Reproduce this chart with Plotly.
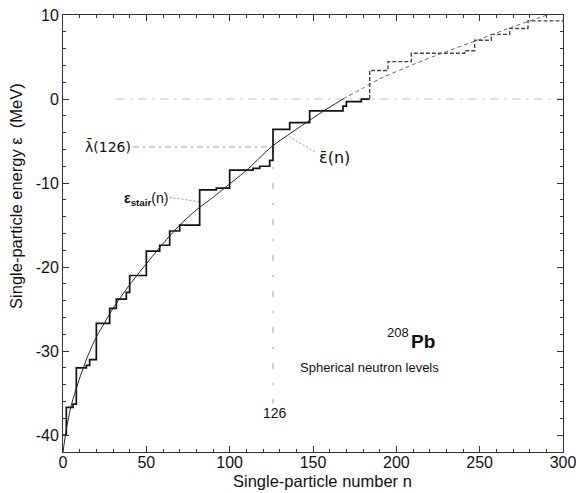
import plotly.graph_objects as go

# ---------------- data ----------------
# bound spherical neutron levels: cumulative particle number at level end, level energy (MeV)
bound_n_end = [2, 6, 8, 14, 16, 20, 28, 32, 38, 40, 50, 58, 64, 70, 82,
               92, 100, 114, 118, 124, 126, 136, 148, 168, 170, 179, 184]
bound_energy = [-40.0, -36.7, -36.3, -32.0, -31.7, -31.0, -26.7, -24.9, -23.8, -23.0,
                -21.0, -18.1, -17.4, -15.7, -15.0, -10.8, -10.6, -8.45, -8.25, -8.0,
                -7.3, -3.6, -2.8, -1.4, -0.85, -0.3, 0.0]
# unbound levels (dashed staircase)
unbound_n_end = [195, 209, 241, 247, 257, 268, 279, 300]
unbound_energy = [3.4, 4.45, 5.45, 5.75, 7.0, 7.7, 8.4, 9.3]

# smooth average energy  eps_bar(n)
smooth_n_bound = [0, 2, 5, 10, 15, 20, 25, 30, 40, 50, 60, 70, 80, 90, 100, 110, 125, 140, 155, 168]
smooth_e_bound = [-42.0, -39.3, -36.4, -33.2, -30.5, -28.3, -26.6, -24.9, -22.1, -19.6,
                  -17.2, -15.0, -13.2, -11.7, -10.1, -8.5, -5.7, -3.6, -1.6, 0.0]
smooth_n_unbound = [168, 180, 190, 210, 228, 250, 270, 292]
smooth_e_unbound = [0.0, 1.3, 2.4, 4.1, 5.5, 7.1, 8.6, 10.1]

fermi_n = 126
fermi_energy = -5.7
xtick_vals = [0, 50, 100, 150, 200, 250, 300]
ytick_vals = [-40, -30, -20, -10, 0, 10]
ytick_text = ["-40", "-30", "-20", "-10", "0", "10"]


def staircase(n_start, e_start, n_ends, energies):
    xs, ys = [n_start], [e_start]
    prev = n_start
    for ne, e in zip(n_ends, energies):
        xs += [prev, ne]
        ys += [e, e]
        prev = ne
    return xs, ys


bx, by = staircase(0, bound_energy[0], bound_n_end, bound_energy)
ux, uy = staircase(bound_n_end[-1], bound_energy[-1], unbound_n_end, unbound_energy)

fig = go.Figure()
GREY = "#9a9a9a"

# reference lines
fig.add_trace(go.Scatter(x=[32, 300], y=[0, 0], mode="lines",
                         line=dict(color="#bbbbbb", width=1, dash="8px,6px,2px,6px"),
                         hoverinfo="skip"))
fig.add_trace(go.Scatter(x=[42, fermi_n], y=[fermi_energy, fermi_energy], mode="lines",
                         line=dict(color=GREY, width=1, dash="6px,4px,2px,4px"),
                         hoverinfo="skip"))
fig.add_trace(go.Scatter(x=[fermi_n, fermi_n], y=[fermi_energy, -39], mode="lines",
                         line=dict(color=GREY, width=1, dash="6px,14px,2px,14px"),
                         hoverinfo="skip"))

# staircase
fig.add_trace(go.Scatter(x=bx, y=by, mode="lines",
                         line=dict(color="#111111", width=1.7), hoverinfo="skip"))
fig.add_trace(go.Scatter(x=ux, y=uy, mode="lines",
                         line=dict(color="#444444", width=1.4, dash="4px,2px"), hoverinfo="skip"))

# smooth curve
fig.add_trace(go.Scatter(x=smooth_n_bound, y=smooth_e_bound, mode="lines",
                         line=dict(color="#222222", width=1, shape="spline", smoothing=0.6),
                         hoverinfo="skip"))
fig.add_trace(go.Scatter(x=smooth_n_unbound, y=smooth_e_unbound, mode="lines",
                         line=dict(color="#666666", width=1, dash="4px,3px", shape="spline", smoothing=0.6),
                         hoverinfo="skip"))

# leader lines
fig.add_trace(go.Scatter(x=[64, 81.5], y=[-11.7, -12.2], mode="lines",
                         line=dict(color=GREY, width=1, dash="2px,2px"), hoverinfo="skip"))
fig.add_trace(go.Scatter(x=[151, 136], y=[-6.3, -4.5], mode="lines",
                         line=dict(color=GREY, width=1, dash="2px,2px"), hoverinfo="skip"))

FONT = "Liberation Sans, Arial, sans-serif"
DJV = "DejaVu Sans, sans-serif"
ann = [
    dict(x=42, y=fermi_energy, text="λ\u0304(126)", xanchor="right", yanchor="middle",
         font=dict(size=14, family=DJV)),
    dict(x=152.5, y=-6.9, text="ε\u0304(n)", xanchor="left", yanchor="middle",
         font=dict(size=16, family=DJV)),
    dict(x=64, y=-11.9, text="<b>ε</b><sub><b>stair</b></sub>(n)", xanchor="right", yanchor="middle",
         font=dict(size=14)),
    dict(x=127, y=-37.3, text="126", xanchor="center", yanchor="middle",
         font=dict(size=14), bgcolor="white", borderpad=1),
    dict(x=209, y=-27.8, text="208", xanchor="right", yanchor="middle",
         font=dict(size=13)),
    dict(x=207.5, y=-28.9, text="<b>Pb</b>", xanchor="left", yanchor="middle",
         font=dict(size=19)),
    dict(x=184, y=-32.0, text="Spherical neutron levels", xanchor="center", yanchor="middle",
         font=dict(size=13)),
    dict(xref="paper", yref="paper", x=0.518, y=-0.066, text="Single-particle number n",
         xanchor="center", yanchor="middle", font=dict(size=16.5)),
    dict(xref="paper", yref="paper", x=-0.094, y=0.586, text="Single-particle energy ε  (MeV)",
         xanchor="center", yanchor="middle", textangle=-90, font=dict(size=16.5)),
]
for a in ann:
    a.setdefault("xref", "x")
    a.setdefault("yref", "y")
    a["showarrow"] = False
    a["font"].setdefault("family", FONT)
    a["font"]["color"] = "#111111"

fig.update_layout(
    width=576, height=493,
    margin=dict(l=63, r=13, t=15, b=41, autoexpand=False),
    paper_bgcolor="white", plot_bgcolor="white",
    showlegend=False,
    font=dict(family=FONT, size=16, color="#111111"),
    annotations=ann,
)
axis_common = dict(showgrid=False, zeroline=False, showline=True, linecolor="#333333",
                   linewidth=1, mirror="ticks", ticks="inside", ticklen=6, tickwidth=1,
                   tickcolor="#333333", ticklabeloverflow="allow",
                   tickfont=dict(size=16, family=FONT, color="#111111"))
fig.update_xaxes(range=[0, 300], tickvals=xtick_vals, ticklabelstandoff=-4,
                 minor=dict(dtick=10, ticks="inside", ticklen=3, tickcolor="#333333"),
                 **axis_common)
fig.update_yaxes(range=[-42, 10], tickvals=ytick_vals, ticktext=ytick_text,
                 minor=dict(dtick=2, ticks="inside", ticklen=3, tickcolor="#333333"),
                 **axis_common)

fig.write_html("out.html")
